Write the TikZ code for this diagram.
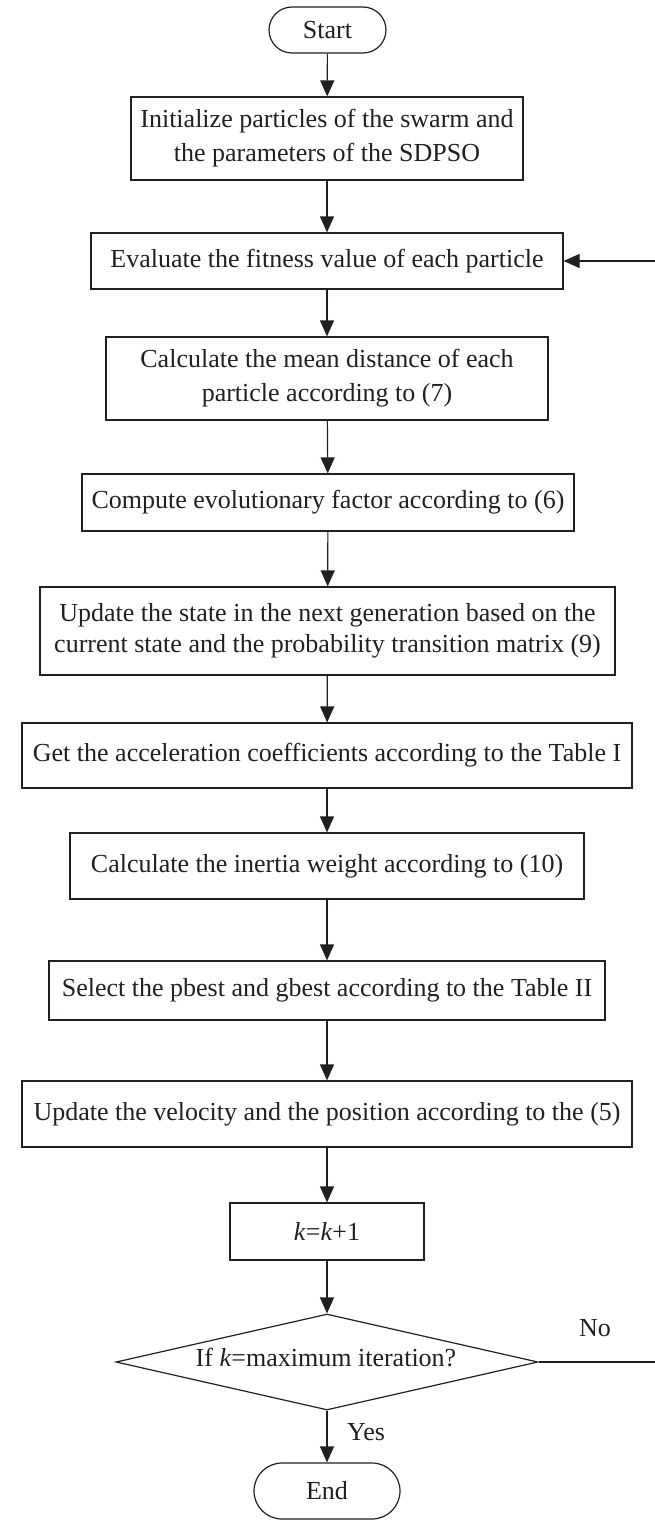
\documentclass[tikz,border=0pt]{standalone}
\usepackage{fontspec}
\setmainfont{Liberation Serif}
\usetikzlibrary{shapes.geometric,arrows.meta}
\definecolor{ink}{RGB}{35,31,32}
\tikzset{
  every node/.style={font=\fontsize{26}{34}\selectfont, text=ink},
  proc/.style={draw=ink, line width=1.2pt, rectangle, inner sep=0pt, align=center},
  term/.style={draw=ink, line width=1.2pt, rectangle, inner sep=0pt},
  dec/.style={draw=ink, line width=1.2pt, diamond, aspect=4.4, inner sep=0pt, minimum width=422pt, minimum height=96pt},
  flow/.style={draw=ink, line width=1.2pt, -{Triangle[length=16pt,width=14pt]}},
  plain/.style={draw=ink, line width=1.2pt}
}
\begin{document}
\begin{tikzpicture}[x=1pt,y=-1pt]
\useasboundingbox (0,0) rectangle (655,1520);
\clip (0,0) rectangle (655,1520);
\node[term, minimum width=117pt, minimum height=46pt, rounded corners=23pt] (start) at (327.5,30) {Start};
\node[proc, minimum width=392pt, minimum height=83pt] (b1) at (327,138.5) {Initialize particles of the swarm and\\the parameters of the SDPSO};
\node[proc, minimum width=472pt, minimum height=56pt] (b2) at (327,261) {Evaluate the fitness value of each particle};
\node[proc, minimum width=442pt, minimum height=83pt] (b3) at (327,378.5) {Calculate the mean distance of each\\particle according to (7)};
\node[proc, minimum width=492pt, minimum height=57pt] (b4) at (328,502.5) {Compute evolutionary factor according to (6)};
\node[proc, minimum width=575pt, minimum height=88pt, font=\fontsize{26}{31}\selectfont] (b5) at (327.5,631) {Update the state in the next generation based on the\\current state and the probability transition matrix (9)};
\node[proc, minimum width=610pt, minimum height=65pt] (b6) at (327,755.5) {Get the acceleration coefficients according to the Table I};
\node[proc, minimum width=514pt, minimum height=66pt] (b7) at (327,866) {Calculate the inertia weight according to (10)};
\node[proc, minimum width=556pt, minimum height=59pt] (b8) at (327,990.5) {Select the pbest and gbest according to the Table II};
\node[proc, minimum width=610pt, minimum height=66pt] (b9) at (327,1114) {Update the velocity and the position according to the (5)};
\node[proc, minimum width=194pt, minimum height=57pt] (b10) at (327,1231.5) {\textit{k}=\textit{k}+1};
\node[dec] (d) at (327,1362) {};
\node (dtext) at (326,1358) {If \textit{k}=maximum iteration?};
\node[term, minimum width=146pt, minimum height=56pt, rounded corners=28pt] (end) at (327,1491) {End};
\node (no) at (595,1328) {No};
\node (yes) at (366,1432) {Yes};
\coordinate (r1) at (662,1362);
\coordinate (r2) at (662,261);
\draw[flow] (start) -- (b1);
\draw[flow] (b1) -- (b2);
\draw[flow] (b2) -- (b3);
\draw[flow] (b3) -- (b4);
\draw[flow] (b4) -- (b5);
\draw[flow] (b5) -- (b6);
\draw[flow] (b6) -- (b7);
\draw[flow] (b7) -- (b8);
\draw[flow] (b8) -- (b9);
\draw[flow] (b9) -- (b10);
\draw[flow] (b10) -- (d);
\draw[flow] (d) -- (end);
\draw[flow] (d.east) -- (r1) -- (r2) -- (b2.east);
\end{tikzpicture}
\end{document}
